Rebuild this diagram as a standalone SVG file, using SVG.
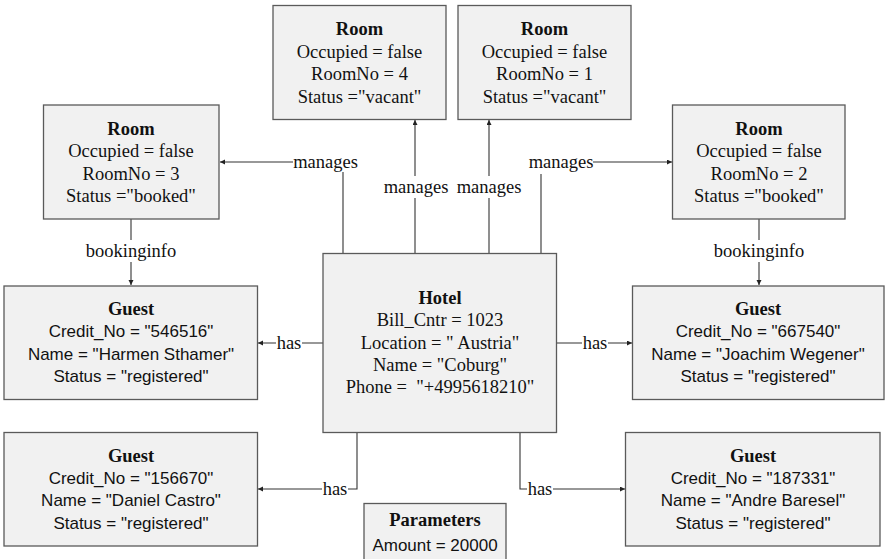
<svg xmlns="http://www.w3.org/2000/svg" width="885" height="559" viewBox="0 0 885 559">
  <defs>
    <marker id="arrow" markerUnits="userSpaceOnUse" markerWidth="6" markerHeight="6" refX="5" refY="2.5" orient="auto">
      <path d="M0,0 L5,2.5 L0,5 z" fill="#222"/>
    </marker>
    <style>
      .box { fill: #f1f1f1; stroke: #5a5a5a; stroke-width: 1.3; }
      .edge { fill: none; stroke: #333; stroke-width: 1.1; marker-end: url(#arrow); }
      .lblbg { fill: #ffffff; }
      .serif { font-family: "Liberation Serif", "Times New Roman", serif; font-size: 18.5px; fill: #111; text-anchor: middle; }
      .title { font-weight: bold; }
      .sans { font-family: "Liberation Sans", Arial, sans-serif; font-size: 17px; fill: #111; text-anchor: middle; }
      .lbl { font-family: "Liberation Serif", "Times New Roman", serif; font-size: 18.5px; fill: #111; text-anchor: middle; }
    </style>
  </defs>

  <rect width="885" height="559" fill="#ffffff"/>

  <!-- connectors -->
  <g id="connectors">
    <path class="edge" d="M343,253 V162 H220"/>
    <path class="edge" d="M415,253 V120"/>
    <path class="edge" d="M489,253 V120"/>
    <path class="edge" d="M541,253 V162 H672"/>
    <path class="edge" d="M131,219 V285"/>
    <path class="edge" d="M759,219 V285"/>
    <path class="edge" d="M323,343 H258"/>
    <path class="edge" d="M557,343 H632"/>
    <path class="edge" d="M357,433 V489 H258"/>
    <path class="edge" d="M520,433 V489 H625"/>

    <!-- edge labels -->
    <rect class="lblbg" x="293" y="150" width="65" height="22"/>
    <text class="lbl" x="325.5" y="168">manages</text>
    <rect class="lblbg" x="384" y="176" width="64" height="22"/>
    <text class="lbl" x="416" y="193">manages</text>
    <rect class="lblbg" x="457" y="176" width="64" height="22"/>
    <text class="lbl" x="489" y="193">manages</text>
    <rect class="lblbg" x="529" y="150" width="64" height="24"/>
    <text class="lbl" x="561" y="168">manages</text>
    <rect class="lblbg" x="86" y="240" width="90" height="22"/>
    <text class="lbl" x="131" y="257">bookinginfo</text>
    <rect class="lblbg" x="714" y="240" width="90" height="22"/>
    <text class="lbl" x="759" y="257">bookinginfo</text>
    <rect class="lblbg" x="276" y="333" width="26" height="20"/>
    <text class="lbl" x="289" y="349">has</text>
    <rect class="lblbg" x="582" y="333" width="26" height="20"/>
    <text class="lbl" x="595" y="349">has</text>
    <rect class="lblbg" x="322" y="479" width="26" height="20"/>
    <text class="lbl" x="335" y="495">has</text>
    <rect class="lblbg" x="527" y="479" width="26" height="20"/>
    <text class="lbl" x="540" y="495">has</text>
  </g>

  <!-- rooms -->
  <g id="room4">
    <rect class="box" x="273" y="5.5" width="173" height="114"/>
    <text class="serif title" x="359.5" y="35">Room</text>
    <text class="serif" x="359.5" y="57.5">Occupied = false</text>
    <text class="serif" x="359.5" y="80">RoomNo = 4</text>
    <text class="serif" x="359.5" y="102.5">Status ="vacant"</text>
  </g>
  <g id="room1">
    <rect class="box" x="458" y="5.5" width="173" height="114"/>
    <text class="serif title" x="544.5" y="35">Room</text>
    <text class="serif" x="544.5" y="57.5">Occupied = false</text>
    <text class="serif" x="544.5" y="80">RoomNo = 1</text>
    <text class="serif" x="544.5" y="102.5">Status ="vacant"</text>
  </g>
  <g id="room3">
    <rect class="box" x="43.5" y="105" width="175.5" height="114"/>
    <text class="serif title" x="131" y="134.5">Room</text>
    <text class="serif" x="131" y="157">Occupied = false</text>
    <text class="serif" x="131" y="179.5">RoomNo = 3</text>
    <text class="serif" x="131" y="202">Status ="booked"</text>
  </g>
  <g id="room2">
    <rect class="box" x="672.5" y="105" width="172.5" height="114"/>
    <text class="serif title" x="759" y="134.5">Room</text>
    <text class="serif" x="759" y="157">Occupied = false</text>
    <text class="serif" x="759" y="179.5">RoomNo = 2</text>
    <text class="serif" x="759" y="202">Status ="booked"</text>
  </g>

  <!-- hotel -->
  <g id="hotel">
    <rect class="box" x="323" y="253.5" width="233.5" height="179"/>
    <text class="serif title" x="440" y="303.5">Hotel</text>
    <text class="serif" x="440" y="326">Bill_Cntr = 1023</text>
    <text class="serif" x="440" y="348.5">Location = " Austria"</text>
    <text class="serif" x="440" y="371">Name = "Coburg"</text>
    <text class="serif" x="440" y="393" xml:space="preserve">Phone =  "+4995618210"</text>
  </g>

  <!-- guests -->
  <g id="guest1">
    <rect class="box" x="4" y="286" width="253.5" height="113.5"/>
    <text class="serif title" x="131" y="315">Guest</text>
    <text class="sans" x="131" y="337">Credit_No = "546516"</text>
    <text class="sans" x="131" y="359.5">Name = "Harmen Sthamer"</text>
    <text class="sans" x="131" y="382">Status = "registered"</text>
  </g>
  <g id="guest2">
    <rect class="box" x="632.5" y="286" width="251.5" height="113.5"/>
    <text class="serif title" x="758" y="315">Guest</text>
    <text class="sans" x="758" y="337">Credit_No = "667540"</text>
    <text class="sans" x="758" y="359.5">Name = "Joachim Wegener"</text>
    <text class="sans" x="758" y="382">Status = "registered"</text>
  </g>
  <g id="guest3">
    <rect class="box" x="4" y="432.5" width="253.5" height="113.5"/>
    <text class="serif title" x="131" y="461.5">Guest</text>
    <text class="sans" x="131" y="483.5">Credit_No = "156670"</text>
    <text class="sans" x="131" y="506">Name = "Daniel Castro"</text>
    <text class="sans" x="131" y="528.5">Status = "registered"</text>
  </g>
  <g id="guest4">
    <rect class="box" x="625.5" y="432.5" width="254.5" height="113.5"/>
    <text class="serif title" x="753" y="461.5">Guest</text>
    <text class="sans" x="753" y="483.5">Credit_No = "187331"</text>
    <text class="sans" x="753" y="506">Name = "Andre Baresel"</text>
    <text class="sans" x="753" y="528.5">Status = "registered"</text>
  </g>

  <!-- parameters -->
  <g id="parameters">
    <rect class="box" x="364" y="503.5" width="142" height="70"/>
    <text class="serif title" x="435" y="526">Parameters</text>
    <text class="sans" x="435" y="551">Amount = 20000</text>
  </g>
</svg>
